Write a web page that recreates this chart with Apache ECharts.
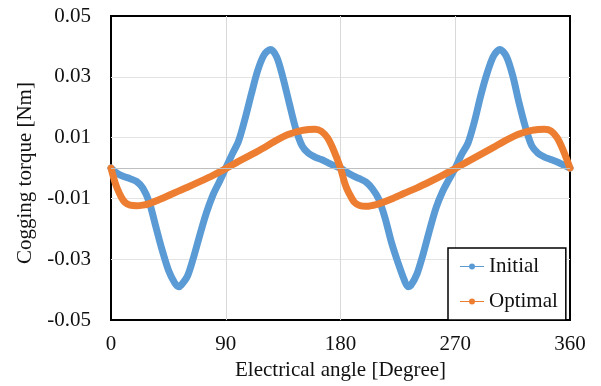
<!DOCTYPE html>
<html>
<head>
<meta charset="utf-8">
<script src="https://cdn.jsdelivr.net/npm/echarts@6/dist/echarts.min.js"></script>
<style>
  html, body { margin: 0; padding: 0; background: #fff; }
  #chart { width: 601px; height: 386px; }
</style>
</head>
<body>
<div id="chart"></div>
<script>
// values (electrical angle in degrees, torque in Nm)
const initialAngle = [
  0, 5, 10, 15, 20, 25, 30, 35, 40, 45, 50, 53, 55, 60, 65, 70, 75, 80, 85, 90,
  95, 100, 105, 110, 115, 120, 125, 130, 135, 140, 145, 150, 155, 160, 165, 170, 175, 180,
  185, 190, 195, 200, 205, 210, 215, 220, 225, 230, 233, 235, 240, 245, 250, 255, 260, 265, 270,
  275, 280, 285, 290, 295, 300, 305, 310, 315, 320, 325, 330, 335, 340, 345, 350, 355, 360
]
const initialTorque = [
  0, -0.0018, -0.0028, -0.0035, -0.0044, -0.0066, -0.0112, -0.019, -0.0268, -0.0335, -0.0378, -0.039, -0.0385, -0.0355, -0.029, -0.0215, -0.0145, -0.0088, -0.0045, 0,
  0.0045, 0.0088, 0.016, 0.0242, 0.032, 0.0372, 0.039, 0.0365, 0.0295, 0.021, 0.0128, 0.0072, 0.0048, 0.0036, 0.0028, 0.0018, 0.0008, 0,
  -0.0014, -0.0026, -0.0035, -0.0046, -0.0068, -0.0102, -0.0165, -0.0245, -0.031, -0.0368, -0.039, -0.0387, -0.0348, -0.028, -0.0202, -0.013, -0.0078, -0.0038, 0,
  0.0045, 0.0082, 0.0152, 0.0238, 0.0312, 0.0368, 0.039, 0.0368, 0.0305, 0.0215, 0.0135, 0.0073, 0.0048, 0.0036, 0.0028, 0.002, 0.001, 0
]

const optimalAngle = [
  0, 3, 5, 8, 11, 15, 20, 25, 30, 40, 50, 60, 70, 80, 90,
  100, 110, 120, 130, 140, 150, 155, 160, 165, 170, 175, 180,
  183, 185, 188, 191, 195, 200, 205, 210, 220, 230, 240, 250, 260, 270,
  280, 290, 300, 310, 320, 330, 335, 340, 345, 350, 355, 360
]
const optimalTorque = [
  0, -0.0045, -0.0068, -0.0095, -0.0113, -0.0122, -0.0124, -0.0122, -0.0117, -0.01, -0.0081, -0.0063, -0.0044, -0.0024, -0.0002,
  0.0022, 0.0044, 0.0067, 0.0092, 0.0112, 0.0124, 0.0127, 0.0128, 0.0121, 0.0098, 0.0055, 0,
  -0.0045, -0.0068, -0.0093, -0.0113, -0.0123, -0.0126, -0.0123, -0.0118, -0.0102, -0.0083, -0.0065, -0.0045, -0.0024, -0.0002,
  0.0022, 0.0045, 0.0068, 0.0092, 0.0112, 0.0124, 0.0127, 0.0128, 0.0122, 0.0099, 0.0055, 0
]

const xTicks = { min: 0, max: 360, interval: 90 }
const yTicks = { min: -0.05, max: 0.05, interval: 0.02 }

const font = '"Liberation Serif", "Times New Roman", serif'
const legendIcon = 'path://M0,3.4 L24,3.4 L24,4.6 L0,4.6 Z M15,4 A3,3 0 1,1 9,4 A3,3 0 1,1 15,4 Z'

const chart = echarts.init(document.getElementById('chart'))

chart.setOption({
  animation: false,
  backgroundColor: '#fff',
  grid: {
    left: 111, right: 31, top: 16, bottom: 65,
    show: true,
    borderColor: '#000',
    borderWidth: 2
  },
  legend: {
    orient: 'vertical',
    left: 448,
    top: 248,
    padding: [8, 8, 8, 12],
    itemGap: 14,
    itemWidth: 24,
    itemHeight: 8,
    borderColor: '#000',
    borderWidth: 1.5,
    backgroundColor: '#fff',
    textStyle: { fontFamily: font, fontSize: 21, color: '#111', lineHeight: 20 },
    data: [
      { name: 'Initial', icon: legendIcon },
      { name: 'Optimal', icon: legendIcon }
    ]
  },
  xAxis: {
    type: 'value',
    min: xTicks.min,
    max: xTicks.max,
    interval: xTicks.interval,
    name: 'Electrical angle [Degree]',
    nameLocation: 'middle',
    nameGap: 38,
    nameTextStyle: { fontFamily: font, fontSize: 21, color: '#111' },
    axisLine: { show: false },
    axisTick: { show: false },
    axisLabel: { fontFamily: font, fontSize: 21, color: '#111', margin: 14 },
    splitLine: {
      show: true, showMinLine: false, showMaxLine: false,
      lineStyle: { color: '#d9d9d9', width: 1 }
    }
  },
  yAxis: {
    type: 'value',
    min: yTicks.min,
    max: yTicks.max,
    interval: yTicks.interval,
    name: 'Cogging torque [Nm]',
    nameLocation: 'middle',
    nameGap: 74,
    nameTextStyle: { fontFamily: font, fontSize: 21, color: '#111', padding: [0, 10, 0, 0] },
    axisLine: { show: false },
    axisTick: { show: false },
    axisLabel: {
      fontFamily: font, fontSize: 21, color: '#111', margin: 20,
      formatter: (v) => v.toFixed(2)
    },
    splitLine: {
      show: true, showMinLine: false, showMaxLine: false,
      lineStyle: { color: '#e3e3e3', width: 1 }
    }
  },
  series: [
    {
      name: 'Initial',
      type: 'line',
      data: initialAngle.map((a, i) => [a, initialTorque[i]]),
      smooth: 0.3,
      symbol: 'none',
      color: '#5B9BD5',
      lineStyle: { width: 7, color: '#5B9BD5', cap: 'round', join: 'round' },
      markLine: {
        silent: true,
        symbol: 'none',
        label: { show: false },
        lineStyle: { color: '#bfbfbf', type: 'solid', width: 1.2 },
        data: [{ yAxis: 0 }]
      },
      z: 2
    },
    {
      name: 'Optimal',
      type: 'line',
      data: optimalAngle.map((a, i) => [a, optimalTorque[i]]),
      smooth: 0.3,
      symbol: 'none',
      color: '#ED7D31',
      lineStyle: { width: 7, color: '#ED7D31', cap: 'round', join: 'round' },
      z: 3
    }
  ]
})
</script>
</body>
</html>
